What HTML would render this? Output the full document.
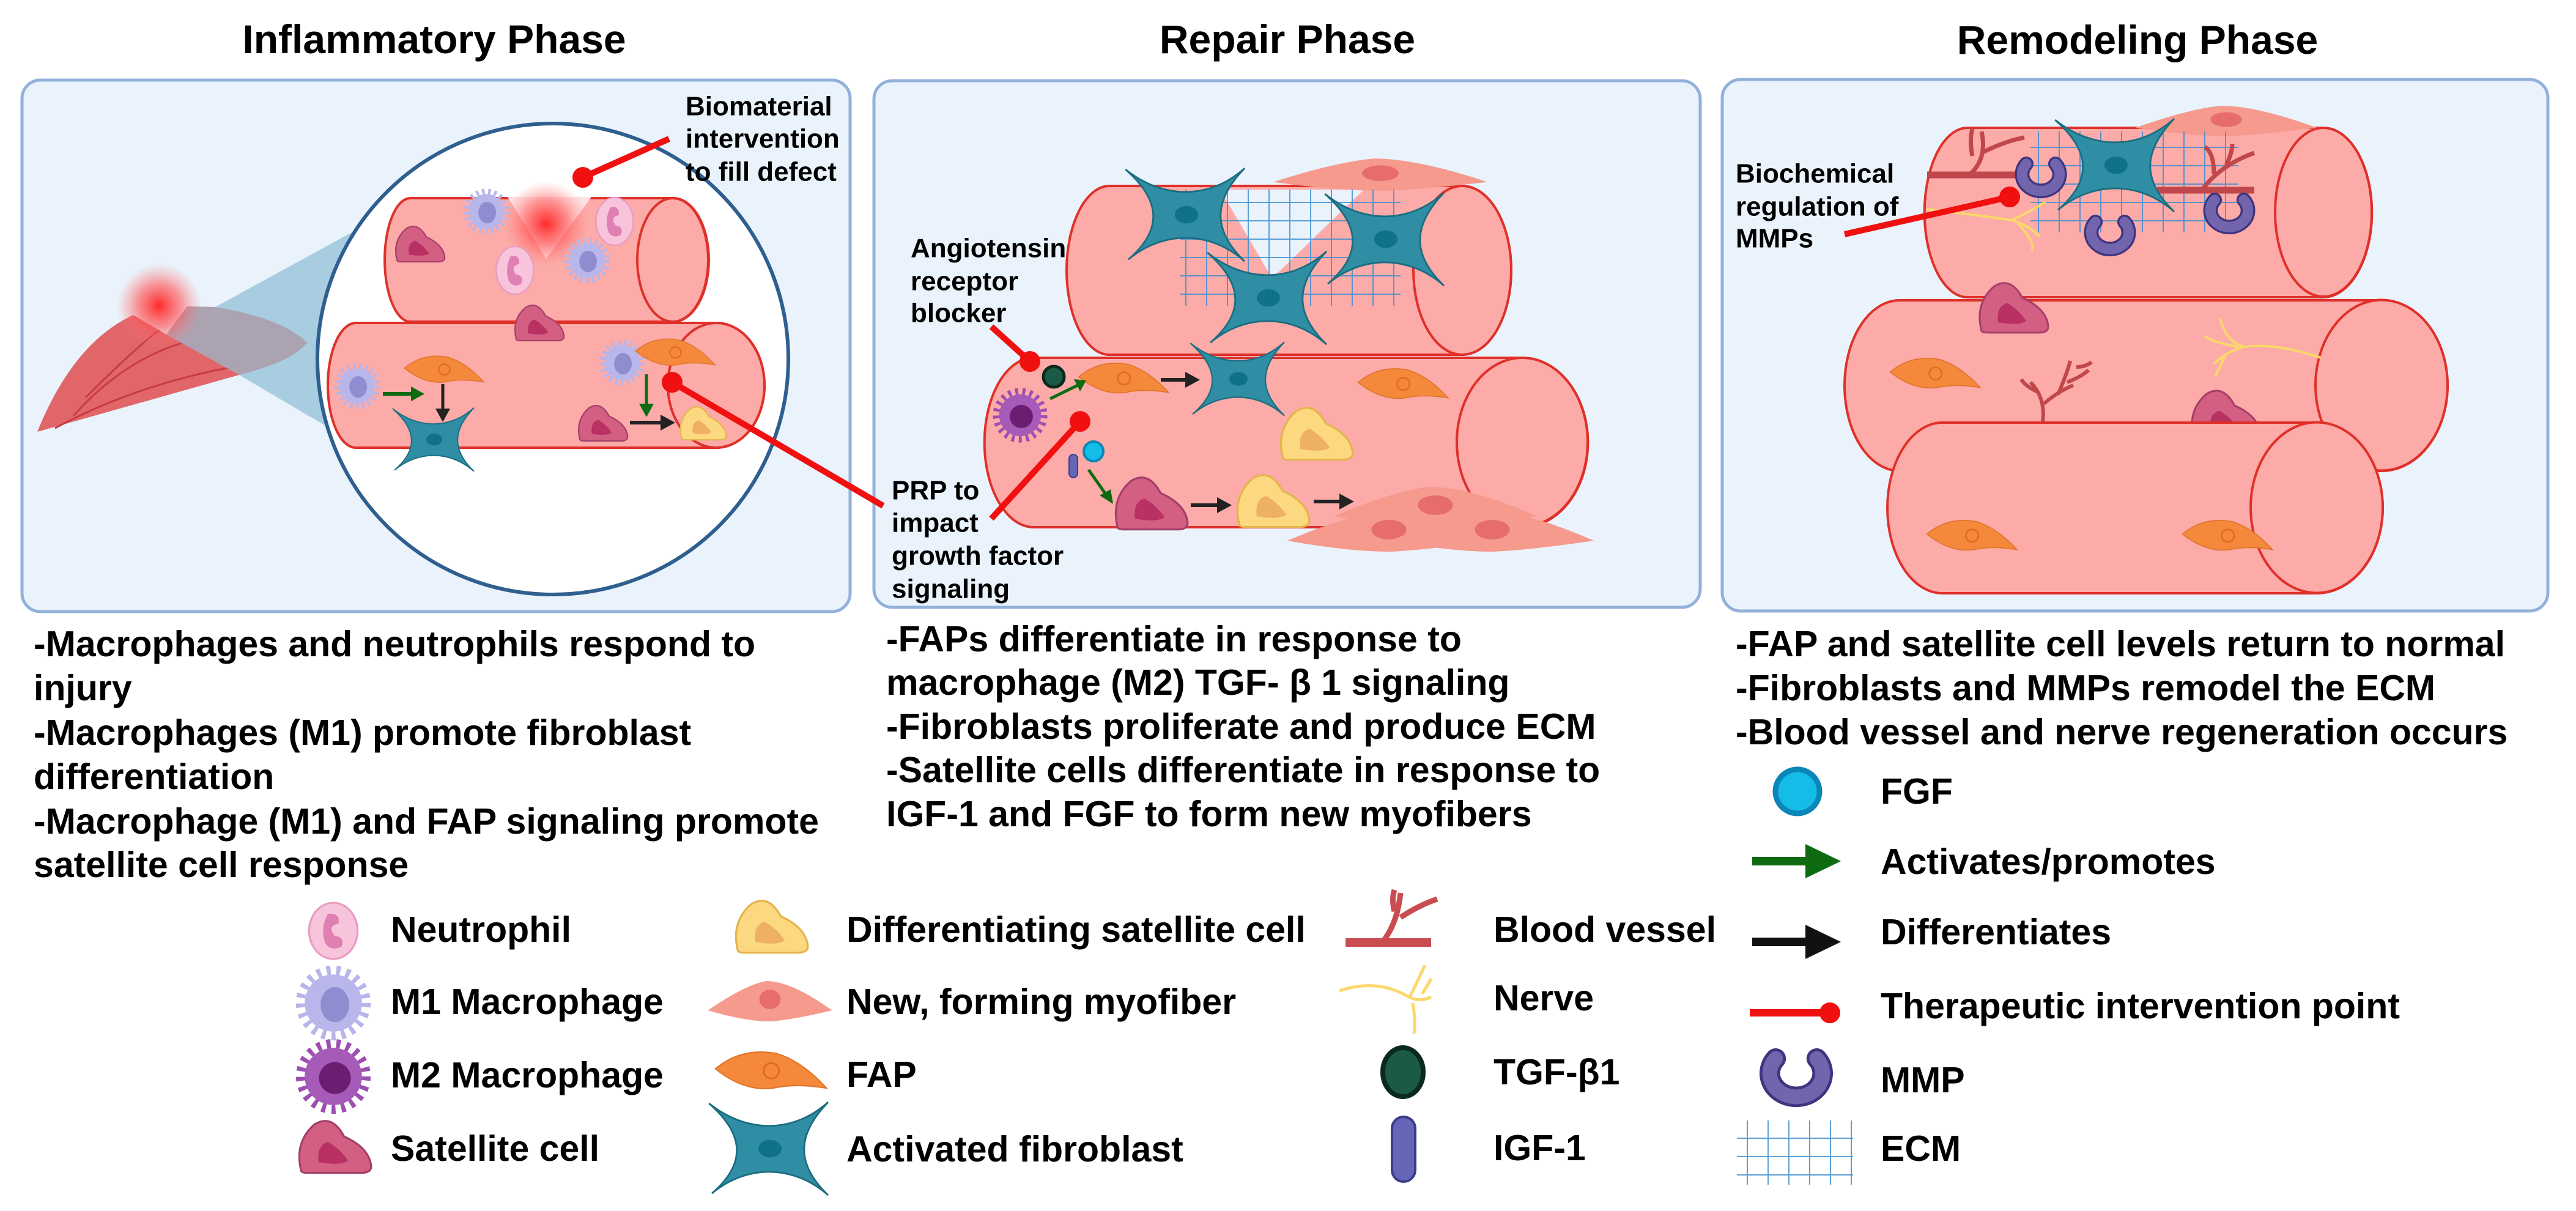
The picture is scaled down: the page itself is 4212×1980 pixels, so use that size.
<!DOCTYPE html>
<html><head><meta charset="utf-8"><style>
html,body{margin:0;padding:0;background:#fff;}
svg{display:block;}
text{font-family:"Liberation Sans",Arial,sans-serif;font-weight:bold;fill:#000;}
</style></head><body>
<svg width="4212" height="1980" viewBox="0 0 4212 1980" xmlns="http://www.w3.org/2000/svg">
<defs>
<radialGradient id="glow"><stop offset="0" stop-color="#ff2a2a" stop-opacity="1"/><stop offset="0.5" stop-color="#ff5050" stop-opacity="0.6"/><stop offset="1" stop-color="#ff8080" stop-opacity="0"/></radialGradient>
<pattern id="mesh" width="34" height="30" patternUnits="userSpaceOnUse"><path d="M0,0 L34,0 M0,0 L0,30" stroke="#3f8fd0" stroke-width="4" fill="none"/></pattern>
<g id="fib"><path d="M-105,-80 C-40,-28 40,-28 100,-82 C45,-25 45,25 100,78 C40,25 -40,25 -100,75 C-42,25 -42,-25 -105,-80Z" fill="#2f8ea3" stroke="#1c6d80" stroke-width="3"/><ellipse cx="0" cy="-2" rx="20" ry="15" fill="#0f7286"/></g>
<g id="fap"><path d="M-85,-8 Q-45,-42 10,-32 Q50,-20 88,22 Q40,14 5,22 Q-40,28 -85,-8Z" fill="#f5893b" stroke="#e0742a" stroke-width="2"/><circle cx="2" cy="-5" r="12" fill="none" stroke="#e06c20" stroke-width="3"/></g>
<g id="sat"><path d="M-48,32 Q-58,-10 -28,-36 Q-2,-52 16,-18 Q52,-2 56,24 Q58,36 42,36 L-38,36 Q-48,36 -48,32Z" fill="#d35f83" stroke="#a4406a" stroke-width="3"/><path d="M-22,20 Q-25,-5 -8,-10 Q10,0 22,18 Q10,26 -22,20Z" fill="#b93063"/></g>
<g id="dif"><path d="M-48,32 Q-58,-10 -28,-36 Q-2,-52 16,-18 Q52,-2 56,24 Q58,36 42,36 L-38,36 Q-48,36 -48,32Z" fill="#fcd980" stroke="#e4b44c" stroke-width="3"/><path d="M-22,20 Q-25,-5 -8,-10 Q10,0 22,18 Q10,26 -22,20Z" fill="#eeb062"/></g>
<g id="m1"><circle r="40" fill="none" stroke="#b7b5ea" stroke-width="14" stroke-dasharray="5 7"/><circle r="36" fill="#b8b6ea"/><ellipse cx="2" cy="2" rx="18" ry="22" fill="#8f8dcf"/></g>
<g id="m2"><circle r="40" fill="none" stroke="#9d4fb0" stroke-width="14" stroke-dasharray="5 7"/><circle r="36" fill="#a55bb7"/><circle cx="2" cy="2" r="20" fill="#6b1d72"/></g>
<g id="neu"><ellipse rx="36" ry="46" fill="#f8c4dc" stroke="#e99cc2" stroke-width="3"/><path d="M-8,-28 Q10,-30 8,-12 Q-10,-8 2,8 Q18,10 12,26 Q-4,34 -12,20 Q-20,-4 -8,-28Z" fill="#e07fb2"/></g>
<g id="myo"><path d="M-175,12 Q-70,-30 -10,-36 Q60,-36 175,12 Q60,28 0,30 Q-70,30 -175,12Z" fill="#f59a8d"/><ellipse cx="0" cy="-6" rx="30" ry="16" fill="#e66d69"/></g>
<g id="mmp"><path d="M-28,-26 A36,32 0 1 0 28,-26" fill="none" stroke="#3e3480" stroke-width="28" stroke-linecap="round"/><path d="M-28,-26 A36,32 0 1 0 28,-26" fill="none" stroke="#7265ad" stroke-width="20" stroke-linecap="round"/></g>
</defs>

<text x="710" y="64" font-size="66" text-anchor="middle" dominant-baseline="central">Inflammatory Phase</text>
<text x="2105" y="64" font-size="66" text-anchor="middle" dominant-baseline="central">Repair Phase</text>
<text x="3495" y="65" font-size="66" text-anchor="middle" dominant-baseline="central">Remodeling Phase</text>

<rect x="36" y="131" width="1354" height="869" rx="30" fill="#eaf3fc" stroke="#92b1da" stroke-width="5"/>
<rect x="1429" y="132" width="1351" height="861" rx="30" fill="#eaf3fc" stroke="#92b1da" stroke-width="5"/>
<rect x="2816" y="130" width="1350" height="869" rx="30" fill="#eaf3fc" stroke="#92b1da" stroke-width="5"/>

<!-- Panel 1 -->
<polygon points="352,502 575,380 532,696 391,613" fill="#a9cde0"/>
<path d="M61,706 Q120,560 218,515 L272,547 L306,501 L352,502 Q460,520 502,560 Q480,590 391,613 Z" fill="#e0575a" opacity="0.9"/>
<path d="M120,680 Q200,590 300,560 M90,700 Q220,630 380,600 M140,650 Q220,570 260,540" stroke="#c63c42" stroke-width="3" fill="none"/>
<path d="M306,501 L352,502 Q460,520 502,560 Q480,590 391,613 L272,547Z" fill="#a9a6b6" opacity="0.95"/>
<circle cx="260" cy="500" r="70" fill="url(#glow)"/>
<circle cx="904" cy="587" r="385" fill="#fff" stroke="#2f5f8f" stroke-width="6"/>
<path d="M671,324 L1101,324 A58,101 0 0 1 1101,526 L671,526 A42,101 0 0 1 671,324Z" fill="#fcaba8" stroke="#e0302a" stroke-width="4"/>
<ellipse cx="1100" cy="425" rx="58" ry="101" fill="#fcaba8" stroke="#e0302a" stroke-width="4"/>
<polygon points="830,322 893,423 967,322" fill="#fde2e2"/>
<circle cx="893" cy="366" r="70" fill="url(#glow)"/>
<path d="M582,528 L1171,528 A79,102 0 0 1 1171,732 L582,732 A46,102 0 0 1 582,528Z" fill="#fcaba8" stroke="#e0302a" stroke-width="4"/>
<ellipse cx="1171" cy="630" rx="79" ry="102" fill="#fcaba8" stroke="#e0302a" stroke-width="4"/>
<use href="#m1" transform="translate(795,346) scale(0.8)"/>
<use href="#m1" transform="translate(960,426) scale(0.8)"/>
<use href="#m1" transform="translate(584,631) scale(0.8)"/>
<use href="#m1" transform="translate(1017,593) scale(0.8)"/>
<use href="#neu" transform="translate(1005,362) scale(0.85)"/>
<use href="#neu" transform="translate(842,442) scale(0.85)"/>
<use href="#sat" transform="translate(685,401) scale(0.75)"/>
<use href="#sat" transform="translate(880,530) scale(0.75)"/>
<use href="#sat" transform="translate(984,694) scale(0.75)"/>
<use href="#fap" transform="translate(725,608) scale(0.75)"/>
<use href="#fap" transform="translate(1103,580) scale(0.75)"/>
<use href="#fib" transform="translate(710,720) scale(0.65)"/>
<use href="#dif" transform="translate(1148,694) scale(0.7)"/>
<path d="M626,644 L675,644" stroke="#0e6b12" stroke-width="6"/><polygon points="672,632 694,644 672,656" fill="#0e6b12"/>
<path d="M724,628 L724,670" stroke="#222" stroke-width="5"/><polygon points="712,668 724,690 736,668" fill="#222"/>
<path d="M1057,612 L1057,662" stroke="#0e6b12" stroke-width="5"/><polygon points="1045,660 1057,682 1069,660" fill="#0e6b12"/>
<path d="M1030,691 L1082,691" stroke="#222" stroke-width="6"/><polygon points="1080,678 1104,691 1080,704" fill="#222"/>
<line x1="1094" y1="227" x2="953" y2="290" stroke="#f01010" stroke-width="10"/><circle cx="953" cy="290" r="17" fill="#f01010"/>
<line x1="1444" y1="827" x2="1099" y2="625" stroke="#f01010" stroke-width="10"/><circle cx="1099" cy="625" r="17" fill="#f01010"/>
<g font-size="44" dominant-baseline="central">
<text x="1121" y="174">Biomaterial</text><text x="1121" y="227">intervention</text><text x="1121" y="281">to fill defect</text>
</g>

<!-- Panel 2 -->
<path d="M1814,304 L2391,304 A80,138 0 0 1 2391,580 L1814,580 A70,138 0 0 1 1814,304Z" fill="#fcaba8" stroke="#e0302a" stroke-width="4"/>
<ellipse cx="2391" cy="442" rx="80" ry="138" fill="#fcaba8" stroke="#e0302a" stroke-width="4"/>
<polygon points="1995,310 2080,455 2230,310" fill="#eaf3fc"/>
<use href="#myo" transform="translate(2257,288) scale(1.0,0.8)"/>
<rect x="1930" y="310" width="360" height="190" fill="url(#mesh)" opacity="0.85"/>
<use href="#fib" transform="translate(1940,353) scale(0.95)"/>
<use href="#fib" transform="translate(2266,393) scale(0.95)"/>
<use href="#fib" transform="translate(2074,489) scale(0.95)"/>
<path d="M1690,585 L2489,585 A107,138 0 0 1 2489,862 L1690,862 A80,138 0 0 1 1690,585Z" fill="#fcaba8" stroke="#e0302a" stroke-width="4"/>
<ellipse cx="2489" cy="723" rx="107" ry="138" fill="#fcaba8" stroke="#e0302a" stroke-width="4"/>
<use href="#fib" transform="translate(2025,621) scale(0.75)"/>
<use href="#fap" transform="translate(1836,623) scale(0.85)"/>
<use href="#fap" transform="translate(2293,632) scale(0.85)"/>
<circle cx="1723" cy="616" r="17" fill="#1b5b45" stroke="#0a2a1e" stroke-width="5"/>
<use href="#m2" transform="translate(1668,679) scale(0.95)"/>
<use href="#dif" transform="translate(2150,712) scale(1.1)"/>
<use href="#dif" transform="translate(2079,822) scale(1.1)"/>
<use href="#sat" transform="translate(1880,826) scale(1.1)"/>
<circle cx="1788" cy="738" r="16" fill="#14bce8" stroke="#0a86b8" stroke-width="4"/>
<rect x="1748" y="743" width="14" height="38" rx="7" fill="#6566b8" stroke="#3c3d8a" stroke-width="2"/>
<use href="#myo" transform="translate(2347,832) scale(0.95,1)"/>
<use href="#myo" transform="translate(2271,872) scale(0.95,1)"/>
<use href="#myo" transform="translate(2440,872) scale(0.95,1)"/>
<path d="M1717,652 L1762,630" stroke="#0e6b12" stroke-width="5"/><polygon points="1756,620 1776,622 1766,640" fill="#0e6b12"/>
<path d="M1780,768 L1808,808" stroke="#0e6b12" stroke-width="5"/><polygon points="1798,810 1820,824 1816,800" fill="#0e6b12"/>
<path d="M1898,621 L1940,621" stroke="#222" stroke-width="6"/><polygon points="1938,608 1962,621 1938,634" fill="#222"/>
<path d="M1947,826 L1992,826" stroke="#222" stroke-width="6"/><polygon points="1990,813 2014,826 1990,839" fill="#222"/>
<path d="M2148,820 L2192,820" stroke="#222" stroke-width="6"/><polygon points="2190,807 2214,820 2190,833" fill="#222"/>
<line x1="1621" y1="534" x2="1684" y2="591" stroke="#f01010" stroke-width="10"/><circle cx="1684" cy="591" r="17" fill="#f01010"/>
<line x1="1621" y1="848" x2="1766" y2="689" stroke="#f01010" stroke-width="10"/><circle cx="1766" cy="689" r="17" fill="#f01010"/>
<g font-size="44" dominant-baseline="central">
<text x="1489" y="406">Angiotensin</text><text x="1489" y="460">receptor</text><text x="1489" y="512">blocker</text>
<text x="1458" y="802">PRP to</text><text x="1458" y="855">impact</text><text x="1458" y="909">growth factor</text><text x="1458" y="963">signaling</text>
</g>

<!-- Panel 3 -->
<path d="M3217,209 L3799,209 A79,138 0 0 1 3799,486 L3217,486 A70,138 0 0 1 3217,209Z" fill="#fcaba8" stroke="#e0302a" stroke-width="4"/>
<ellipse cx="3799" cy="347" rx="79" ry="138" fill="#fcaba8" stroke="#e0302a" stroke-width="4"/>
<use href="#myo" transform="translate(3640,200) scale(0.85,0.75)"/>
<rect x="3320" y="215" width="340" height="165" fill="url(#mesh)" opacity="0.85"/>
<path d="M3151,286 L3300,286" stroke="#c0474b" stroke-width="11"/>
<path d="M3220,286 Q3250,260 3240,215 M3240,250 Q3280,230 3310,225 M3225,255 Q3220,230 3225,210" stroke="#c0474b" stroke-width="7" fill="none"/>
<path d="M3527,311 L3686,311" stroke="#c0474b" stroke-width="11"/>
<path d="M3600,311 Q3630,270 3686,250 M3620,285 Q3620,250 3605,240 M3640,270 Q3650,250 3650,235" stroke="#c0474b" stroke-width="7" fill="none"/>
<path d="M3150,342 Q3220,350 3290,360 Q3320,370 3335,387 M3290,360 Q3330,340 3345,330 M3300,365 Q3330,400 3322,410" stroke="#fbd86a" stroke-width="4" fill="none"/>
<use href="#fib" transform="translate(3460,272) scale(0.95)"/>
<use href="#mmp" transform="translate(3337,290) scale(0.85)"/>
<use href="#mmp" transform="translate(3450,385) scale(0.85)"/>
<use href="#mmp" transform="translate(3645,349) scale(0.85)"/>
<path d="M3106,491 L3894,491 A108,139.5 0 0 1 3894,770 L3106,770 A90,139.5 0 0 1 3106,491Z" fill="#fcaba8" stroke="#e0302a" stroke-width="4"/>
<ellipse cx="3894" cy="630" rx="108" ry="139.5" fill="#fcaba8" stroke="#e0302a" stroke-width="4"/>
<use href="#sat" transform="translate(3290,506) scale(1.05)"/>
<use href="#fap" transform="translate(3163,615) scale(0.85)"/>
<path d="M3340,690 Q3345,650 3320,625 M3342,660 Q3365,640 3390,630 M3365,645 Q3380,610 3385,590 M3380,625 Q3405,615 3415,605 M3330,640 Q3310,630 3305,620 M3395,600 Q3410,600 3420,592" stroke="#c0474b" stroke-width="6" fill="none"/>
<path d="M3795,585 Q3720,560 3670,567 Q3640,560 3630,520 M3670,567 Q3640,575 3620,595 M3660,567 Q3620,560 3605,550 M3640,578 Q3630,600 3622,615" stroke="#fbd86a" stroke-width="4" fill="none"/>
<use href="#sat" transform="translate(3637,682) scale(1.05)"/>
<path d="M3176,691 L3788,691 A108,139.5 0 0 1 3788,970 L3176,970 A90,139.5 0 0 1 3176,691Z" fill="#fcaba8" stroke="#e0302a" stroke-width="4"/>
<ellipse cx="3788" cy="830" rx="108" ry="139.5" fill="#fcaba8" stroke="#e0302a" stroke-width="4"/>
<use href="#fap" transform="translate(3223,880) scale(0.85)"/>
<use href="#fap" transform="translate(3641,880) scale(0.85)"/>
<line x1="3016" y1="383" x2="3286" y2="322" stroke="#f01010" stroke-width="10"/><circle cx="3286" cy="322" r="17" fill="#f01010"/>
<g font-size="44" dominant-baseline="central">
<text x="2838" y="284">Biochemical</text><text x="2838" y="338">regulation of</text><text x="2838" y="390">MMPs</text>
</g>

<g font-size="59" dominant-baseline="central">
<text x="55" y="1053">-Macrophages and neutrophils respond to</text>
<text x="55" y="1125">injury</text>
<text x="55" y="1198">-Macrophages (M1) promote fibroblast</text>
<text x="55" y="1270">differentiation</text>
<text x="55" y="1343">-Macrophage (M1) and FAP signaling promote</text>
<text x="55" y="1414">satellite cell response</text>
<text x="1449" y="1045">-FAPs differentiate in response to</text>
<text x="1449" y="1116">macrophage (M2) TGF- β 1 signaling</text>
<text x="1449" y="1188">-Fibroblasts proliferate and produce ECM</text>
<text x="1449" y="1259">-Satellite cells differentiate in response to</text>
<text x="1449" y="1331">IGF-1 and FGF to form new myofibers</text>
<text x="2838" y="1053">-FAP and satellite cell levels return to normal</text>
<text x="2838" y="1125">-Fibroblasts and MMPs remodel the ECM</text>
<text x="2838" y="1197">-Blood vessel and nerve regeneration occurs</text>
</g>

<use href="#neu" transform="translate(545,1522) scale(1.1,1.0)"/>
<use href="#m1" transform="translate(545,1640) scale(1.3)"/>
<use href="#m2" transform="translate(545,1760) scale(1.3)"/>
<use href="#sat" transform="translate(545,1878) scale(1.1)"/>
<use href="#dif" transform="translate(1259,1518) scale(1.1)"/>
<use href="#myo" transform="translate(1259,1640) scale(0.58,1)"/>
<use href="#fap" transform="translate(1259,1756) scale(1.05)"/>
<use href="#fib" transform="translate(1259,1880) scale(0.95)"/>
<path d="M2200,1541 L2340,1541" stroke="#c94c50" stroke-width="14"/>
<path d="M2260,1541 Q2285,1510 2290,1460 M2290,1500 Q2320,1480 2350,1470 M2280,1490 Q2275,1470 2280,1455" stroke="#c94c50" stroke-width="9" fill="none"/>
<path d="M2190,1620 Q2250,1600 2300,1628 Q2320,1640 2340,1630 M2305,1630 Q2320,1600 2330,1578 M2310,1640 Q2315,1670 2312,1690 M2325,1625 Q2335,1610 2340,1600" stroke="#fbd86a" stroke-width="5" fill="none"/>
<ellipse cx="2294" cy="1753" rx="33" ry="40" fill="#1b5b45" stroke="#0a2a1e" stroke-width="8"/>
<rect x="2276" y="1826" width="38" height="106" rx="19" fill="#6566b8" stroke="#3c3d8a" stroke-width="4"/>
<circle cx="2939" cy="1294" r="36" fill="#14bce8" stroke="#0a86b8" stroke-width="9"/>
<path d="M2865,1408 L2955,1408" stroke="#0e6b12" stroke-width="14"/><polygon points="2952,1380 3010,1408 2952,1436" fill="#0e6b12"/>
<path d="M2865,1540 L2955,1540" stroke="#111" stroke-width="14"/><polygon points="2952,1512 3010,1540 2952,1568" fill="#111"/>
<path d="M2861,1656 L2985,1656" stroke="#f01010" stroke-width="12"/><circle cx="2992" cy="1656" r="17" fill="#f01010"/>
<use href="#mmp" transform="translate(2937,1762) scale(1.2)"/>
<rect x="2840" y="1832" width="190" height="105" fill="url(#mesh)" opacity="0.85"/>
<g font-size="59" dominant-baseline="central">
<text x="639" y="1520">Neutrophil</text>
<text x="639" y="1638">M1 Macrophage</text>
<text x="639" y="1758">M2 Macrophage</text>
<text x="639" y="1878">Satellite cell</text>
<text x="1384" y="1520">Differentiating satellite cell</text>
<text x="1384" y="1638">New, forming myofiber</text>
<text x="1384" y="1757">FAP</text>
<text x="1384" y="1879">Activated fibroblast</text>
<text x="2442" y="1520">Blood vessel</text>
<text x="2442" y="1632">Nerve</text>
<text x="2442" y="1753">TGF-β1</text>
<text x="2442" y="1877">IGF-1</text>
<text x="3075" y="1294">FGF</text>
<text x="3075" y="1409">Activates/promotes</text>
<text x="3075" y="1524">Differentiates</text>
<text x="3075" y="1645">Therapeutic intervention point</text>
<text x="3075" y="1766">MMP</text>
<text x="3075" y="1878">ECM</text>
</g>
</svg>
</body></html>
